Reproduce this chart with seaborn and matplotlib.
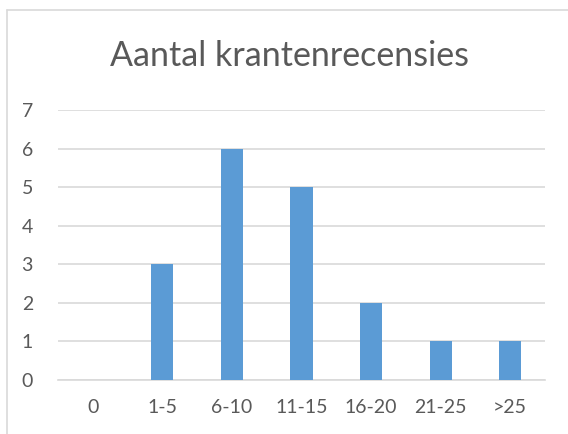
import matplotlib
matplotlib.use("Agg")
import matplotlib.pyplot as plt
import seaborn as sns
import pandas as pd
from matplotlib.lines import Line2D

categories = ["0", "1-5", "6-10", "11-15", "16-20", "21-25", ">25"]
counts = [0, 3, 6, 5, 2, 1, 1]
title = "Aantal krantenrecensies"

df = pd.DataFrame({"categorie": categories, "aantal": counts})

sns.set_style("white")
plt.rcParams["font.family"] = ["Lato", "DejaVu Sans"]

txt = "#595959"
grid = "#D9D9D9"

fig = plt.figure(figsize=(5.68, 4.34), dpi=100)
ax = fig.add_axes([58 / 568, 54 / 434, 487 / 568, 270 / 434])

sns.barplot(data=df, x="categorie", y="aantal", color="#5B9BD5", width=0.32,
            saturation=1, linewidth=0, ax=ax, zorder=3)

ax.set_ylim(0, 7)
ax.set_yticks(range(0, 8))
ax.yaxis.grid(True, color=grid, linewidth=1.2, zorder=0)
ax.set_axisbelow(True)
for s in ["top", "right", "left"]:
    ax.spines[s].set_visible(False)
ax.spines["bottom"].set_color(grid)
ax.spines["bottom"].set_linewidth(1.2)
ax.tick_params(length=0, labelsize=14, colors=txt)
ax.tick_params(axis="y", pad=18)
ax.tick_params(axis="x", pad=14)
ax.set_xlabel("")
ax.set_ylabel("")

fig.text(290 / 568, 1 - 56 / 434, title, ha="center", va="center",
         fontsize=24.5, color=txt)

# chart border (Excel style)
fig.add_artist(Line2D([7 / 568, 7 / 568], [0, 1 - 10 / 434], transform=fig.transFigure,
                      color=grid, linewidth=1.2))
fig.add_artist(Line2D([7 / 568, 1], [1 - 10 / 434, 1 - 10 / 434], transform=fig.transFigure,
                      color=grid, linewidth=1.2))

fig.savefig("out.png", dpi=100)
